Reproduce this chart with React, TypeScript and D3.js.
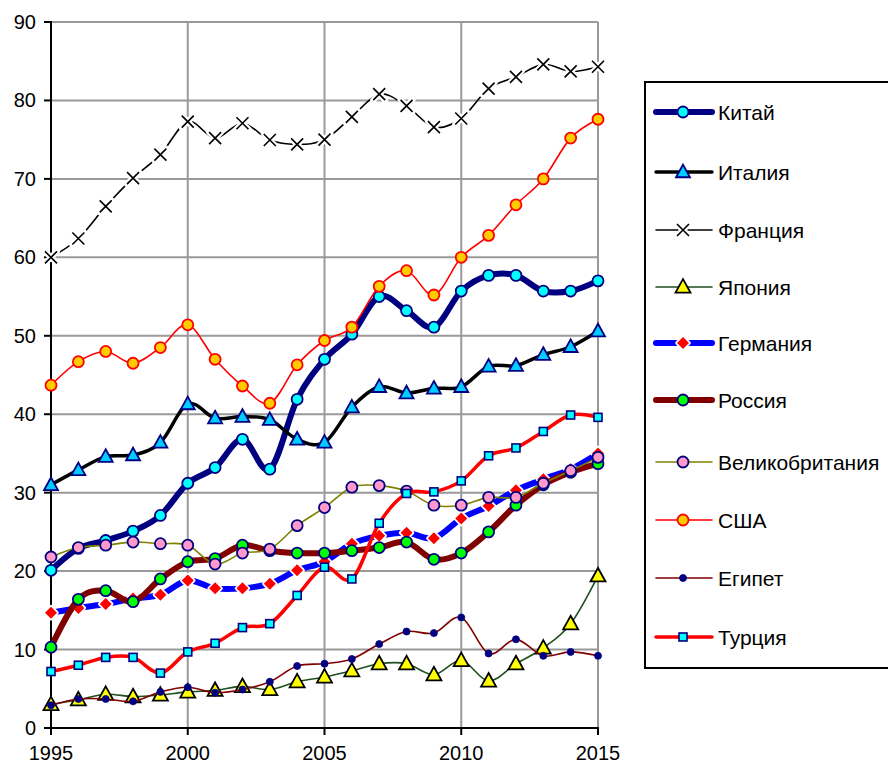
import React from "react";
import * as d3 from "d3";

const years = [1995,1996,1997,1998,1999,2000,2001,2002,2003,2004,2005,2006,2007,2008,2009,2010,2011,2012,2013,2014,2015];
const yTicks = [0,10,20,30,40,50,60,70,80,90];
const xTicks = [1995,2000,2005,2010,2015];

const china = [20.1,22.9,23.9,25.1,27.1,31.2,33.2,36.8,33.0,41.9,47.0,50.2,55.0,53.2,51.1,55.7,57.7,57.7,55.7,55.7,57.0];
const italy = [31.0,32.9,34.6,34.8,36.4,41.3,39.5,39.7,39.3,36.8,36.4,40.9,43.5,42.7,43.3,43.5,46.1,46.2,47.6,48.6,50.6];
const france = [60.0,62.4,66.5,70.1,73.1,77.3,75.2,77.1,74.95,74.4,75.0,77.9,80.8,79.3,76.6,77.7,81.5,83.0,84.6,83.7,84.3];
const japan = [3.0,3.6,4.3,4.0,4.2,4.6,4.8,5.3,4.9,5.9,6.5,7.3,8.2,8.2,6.8,8.6,6.0,8.2,10.2,13.3,19.4];
const germany = [14.7,15.3,15.8,16.5,17.0,18.8,17.8,17.8,18.4,20.1,21.2,23.5,24.5,24.9,24.2,26.7,28.3,30.3,31.7,33.0,35.0];
const russia = [10.3,16.4,17.5,16.1,19.0,21.2,21.6,23.3,22.6,22.3,22.3,22.6,23.0,23.7,21.5,22.3,25.0,28.4,31.0,32.6,33.7];
const uk = [21.8,23.0,23.3,23.7,23.5,23.3,20.9,22.3,22.8,25.8,28.1,30.7,30.9,30.2,28.4,28.4,29.4,29.4,31.2,32.8,34.5];
const usa = [43.7,46.7,48.0,46.5,48.5,51.4,47.0,43.6,41.4,46.3,49.4,51.1,56.3,58.3,55.2,60.0,62.8,66.7,70.0,75.2,77.6];
const egypt = [2.9,3.7,3.7,3.4,4.6,5.2,4.5,4.9,5.9,7.9,8.2,8.8,10.7,12.3,12.1,14.1,9.5,11.3,9.2,9.7,9.2];
const turkey = [7.2,8.0,9.0,9.0,7.0,9.7,10.8,12.8,13.3,16.9,20.5,19.0,26.1,29.9,30.1,31.5,34.7,35.7,37.8,39.9,39.6];

const seriesNames = ["Китай","Италия","Франция","Япония","Германия","Россия","Великобритания","США","Египет","Турция"];
const seriesValues = [china, italy, france, japan, germany, russia, uk, usa, egypt, turkey];

type Style = { line: string; width: number; marker: string; fill: string; stroke: string; size: number };
const styles: Style[] = [
  { line: "#000080", width: 6, marker: "circle", fill: "#00FFFF", stroke: "#000080", size: 5.5 },
  { line: "#000000", width: 3.5, marker: "triangle", fill: "#00CCFF", stroke: "#000080", size: 7 },
  { line: "#000000", width: 1.6, marker: "x", fill: "none", stroke: "#000000", size: 6 },
  { line: "#1F4F1F", width: 1.6, marker: "triangle", fill: "#FFFF00", stroke: "#000000", size: 7.5 },
  { line: "#0000FF", width: 6, marker: "diamond", fill: "#FF0000", stroke: "#FFFFFF", size: 6 },
  { line: "#800000", width: 6, marker: "circle", fill: "#00FF00", stroke: "#000080", size: 5.5 },
  { line: "#808000", width: 1.6, marker: "circle", fill: "#FF99CC", stroke: "#000080", size: 5.5 },
  { line: "#FF0000", width: 1.6, marker: "circle", fill: "#FFCC00", stroke: "#FF0000", size: 5.5 },
  { line: "#800000", width: 1.6, marker: "dot", fill: "#000080", stroke: "#000080", size: 3.5 },
  { line: "#FF0000", width: 3.5, marker: "square", fill: "#00FFFF", stroke: "#000080", size: 4 },
];

const W = 888, H = 764;
const x = d3.scaleLinear().domain([1995, 2015]).range([51, 598]);
const y = d3.scaleLinear().domain([0, 90]).range([728, 22]);

function Marker({ cx, cy, s }: { cx: number; cy: number; s: Style }) {
  const st = s;
  const r = st.size;
  switch (st.marker) {
    case "circle":
      return <circle cx={cx} cy={cy} r={r} fill={st.fill} stroke={st.stroke} strokeWidth={1.8} />;
    case "dot":
      return <circle cx={cx} cy={cy} r={r} fill={st.fill} stroke={st.stroke} strokeWidth={0.8} />;
    case "triangle": {
      const pts = `${cx},${cy - r * 1.05} ${cx + r},${cy + r * 0.75} ${cx - r},${cy + r * 0.75}`;
      return <polygon points={pts} fill={st.fill} stroke={st.stroke} strokeWidth={1.8} strokeLinejoin="miter" />;
    }
    case "square":
      return <rect x={cx - r} y={cy - r} width={2 * r} height={2 * r} fill={st.fill} stroke={st.stroke} strokeWidth={1.6} />;
    case "diamond": {
      const pts = `${cx},${cy - r} ${cx + r},${cy} ${cx},${cy + r} ${cx - r},${cy}`;
      return (
        <g>
          <polygon points={pts} fill={st.stroke} stroke={st.stroke} strokeWidth={3.5} strokeLinejoin="round" />
          <polygon points={pts} fill={st.fill} />
        </g>
      );
    }
    case "x": {
      const d = `M${cx - r},${cy - r}L${cx + r},${cy + r}M${cx - r},${cy + r}L${cx + r},${cy - r}`;
      return (
        <g>
          <path d={d} stroke="#FFFFFF" strokeWidth={6} strokeLinecap="round" />
          <path d={d} stroke={st.stroke} strokeWidth={1.6} />
        </g>
      );
    }
  }
  return null;
}

export default function App() {
  const line = d3.line<number>()
    .x((_, i) => x(years[i]))
    .y((v) => y(v))
    .curve(d3.curveCatmullRom.alpha(0));

  const legendY = [112, 172, 230, 287, 343, 400, 462, 520, 578, 637];

  return (
    <svg width={W} height={H} style={{ position: "absolute", left: 0, top: 0 }} fontFamily="'Liberation Sans', Arial, sans-serif">
      <rect x={0} y={0} width={W} height={H} fill="#FFFFFF" />
      {yTicks.filter((t) => t > 0).map((t) => (
        <line key={"gy" + t} x1={x(1995)} x2={x(2015)} y1={y(t)} y2={y(t)} stroke="#999999" strokeWidth={2} />
      ))}
      {xTicks.filter((t) => t > 1995).map((t) => (
        <line key={"gx" + t} x1={x(t)} x2={x(t)} y1={y(90)} y2={y(0)} stroke="#999999" strokeWidth={2} />
      ))}
      <line x1={x(1995)} x2={x(1995)} y1={y(90) - 1} y2={y(0) + 1} stroke="#000" strokeWidth={2} />
      <line x1={x(1995) - 1} x2={x(2015) + 1} y1={y(0)} y2={y(0)} stroke="#000" strokeWidth={2} />
      {yTicks.map((t) => (
        <g key={"yt" + t}>
          <line x1={x(1995) - 7} x2={x(1995)} y1={y(t)} y2={y(t)} stroke="#000" strokeWidth={2} />
          <text x={36} y={y(t) + 7} textAnchor="end" fontSize={20} fill="#000">{t}</text>
        </g>
      ))}
      {xTicks.map((t) => (
        <g key={"xt" + t}>
          <line x1={x(t)} x2={x(t)} y1={y(0)} y2={y(0) + 7} stroke="#000" strokeWidth={2} />
          <text x={x(t)} y={760} textAnchor="middle" fontSize={20} fill="#000">{t}</text>
        </g>
      ))}
      {seriesValues.map((vals, si) => {
        const st = styles[si];
        return (
          <g key={"s" + si}>
            <path d={line(vals) || ""} fill="none" stroke={st.line} strokeWidth={st.width} strokeLinejoin="round" strokeLinecap="round" />
            {vals.map((v, i) => (
              <Marker key={i} s={st} cx={x(years[i])} cy={y(v)} />
            ))}
          </g>
        );
      })}
      <rect x={645} y={82} width={260} height={586} fill="#FFFFFF" stroke="#000" strokeWidth={2} />
      {seriesNames.map((name, i) => {
        const st = styles[i];
        const ly = legendY[i];
        return (
          <g key={"lg" + i}>
            <line x1={656} x2={712} y1={ly} y2={ly} stroke={st.line} strokeWidth={st.width} strokeLinecap="round" />
            <Marker s={st} cx={683} cy={ly} />
            <text x={718} y={ly + 7.5} fontSize={21} fill="#000">{name}</text>
          </g>
        );
      })}
    </svg>
  );
}
